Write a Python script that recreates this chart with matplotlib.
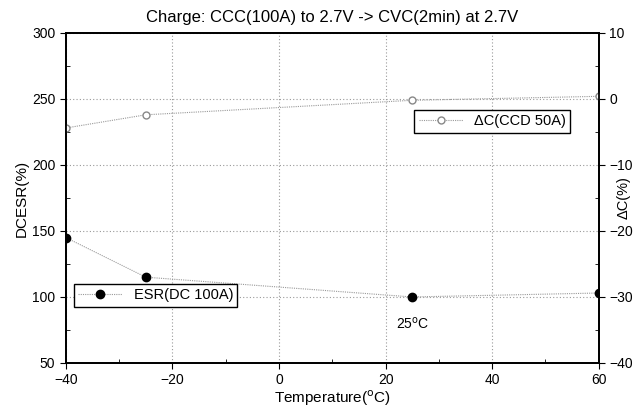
import matplotlib
matplotlib.use("Agg")
import matplotlib.pyplot as plt
from matplotlib.ticker import MultipleLocator

plt.rcParams['font.family'] = ['Liberation Sans', 'DejaVu Sans']

# data
temp = [-40, -25, 25, 60]
esr = [145, 115, 100, 103]
dcap = [-4.4, -2.4, -0.2, 0.4]

fig = plt.figure(figsize=(6.39, 4.12), dpi=100)
ax = fig.add_axes([0.103, 0.119, 0.834, 0.801])
ax2 = ax.twinx()

l1, = ax.plot(temp, esr, color='#999999', lw=0.8, ls=(0, (1, 1)),
              marker='o', ms=6, mfc='black', mec='black', label='ESR(DC 100A)')
l2, = ax2.plot(temp, dcap, color='#999999', lw=0.8, ls=(0, (1, 1)),
               marker='o', ms=5, mfc='white', mec='#888888', label='\u0394C(CCD 50A)')

ax.set_xlim(-40, 60)
ax.set_ylim(50, 300)
ax2.set_ylim(-40, 10)
ax.xaxis.set_major_locator(MultipleLocator(20))
ax.xaxis.set_minor_locator(MultipleLocator(10))
ax.yaxis.set_major_locator(MultipleLocator(50))
ax.yaxis.set_minor_locator(MultipleLocator(25))
ax2.yaxis.set_major_locator(MultipleLocator(10))
ax2.yaxis.set_minor_locator(MultipleLocator(5))

ax.grid(True, which='major', color='#999999', ls=(0, (1, 2)), lw=0.8)
ax.tick_params(which='major', direction='out', length=4, labelsize=10)
ax.tick_params(which='minor', direction='in', length=3)
ax2.tick_params(which='major', direction='out', length=4, labelsize=10)
ax2.tick_params(which='minor', direction='in', length=3)
for a in (ax, ax2):
    for s in a.spines.values():
        s.set_linewidth(1.3)

ax.set_xlabel('Temperature($^{\\rm o}$C)', fontsize=11, labelpad=1)
ax.set_ylabel('DCESR(%)', fontsize=11, labelpad=2)
ax2.set_ylabel('\u0394C(%)', fontsize=10.5, rotation=90)
ax2.yaxis.set_label_coords(1.033, 0.5)
ax.set_title('Charge: CCC(100A) to 2.7V -> CVC(2min) at 2.7V', fontsize=12, pad=8)

ax.text(25, 80, '25$^{\\rm o}$C', ha='center', va='center', fontsize=10)

leg1 = ax.legend(handles=[l1], loc='lower left', bbox_to_anchor=(0.015, 0.17),
                 fancybox=False, edgecolor='black', fontsize=10.5, handlelength=3,
                 framealpha=1, borderpad=0.3, borderaxespad=0)
leg1.get_frame().set_linewidth(1.0)
leg2 = ax2.legend(handles=[l2], loc='upper right', bbox_to_anchor=(0.947, 0.767),
                  fancybox=False, edgecolor='black', fontsize=10.5, handlelength=3,
                  framealpha=1, borderpad=0.3, borderaxespad=0)
leg2.get_frame().set_linewidth(1.0)

fig.savefig('out.png', dpi=100)
